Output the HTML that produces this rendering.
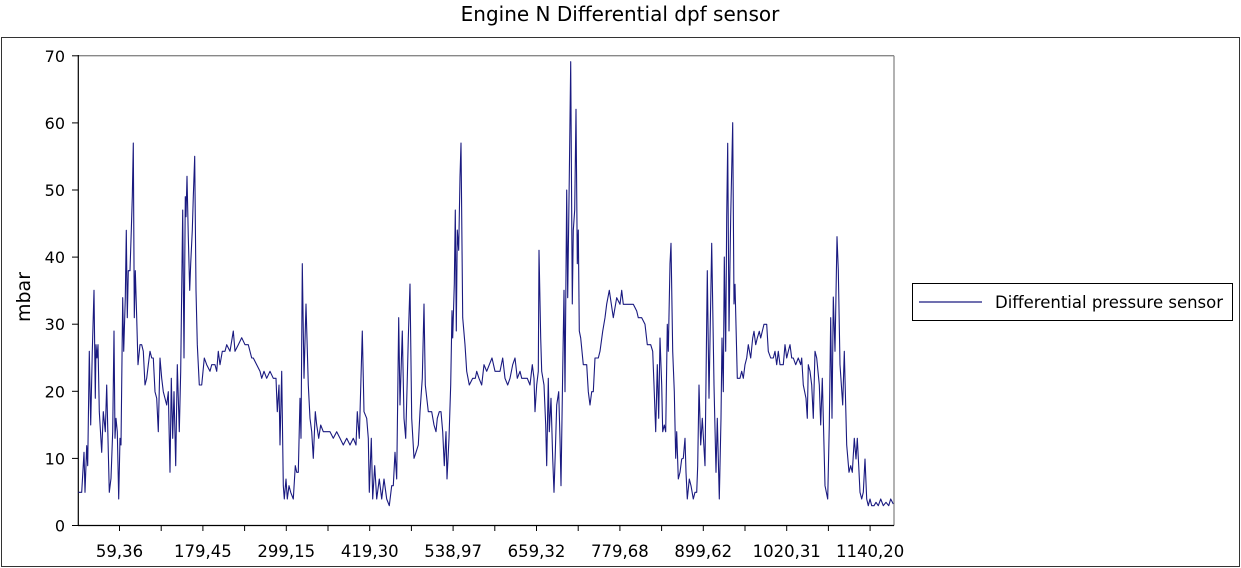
<!DOCTYPE html>
<html><head><meta charset="utf-8"><style>
html,body{margin:0;padding:0;background:#fff;}
svg{display:block;font-family:"DejaVu Sans","Liberation Sans",sans-serif;}
</style></head><body>
<svg id="s" width="1241" height="568" xmlns="http://www.w3.org/2000/svg">
<rect x="0" y="0" width="1241" height="568" fill="#fff"/>
<text x="620" y="21" font-size="20" text-anchor="middle" fill="#000">Engine N Differential dpf sensor</text>
<rect x="1.5" y="37.5" width="1238" height="529" fill="none" stroke="#333" stroke-width="1"/>
<line x1="78" y1="55.7" x2="894" y2="55.7" stroke="#888" stroke-width="1.3"/>
<line x1="894" y1="55.7" x2="894" y2="525.5" stroke="#888" stroke-width="1.3"/>
<line x1="78.3" y1="55" x2="78.3" y2="526" stroke="#000" stroke-width="1.2"/>
<line x1="78" y1="525.5" x2="894" y2="525.5" stroke="#000" stroke-width="1.2"/>
<g id="yt" font-size="16" text-anchor="end" fill="#000"></g>
<g id="xt" font-size="16.5" text-anchor="middle" fill="#000"></g>
<text x="30" y="297" font-size="19" text-anchor="middle" transform="rotate(-90 30 297)">mbar</text>
<polyline id="pl" fill="none" stroke="#1a1a80" stroke-width="1.1" stroke-linejoin="round"/>
<rect x="912.5" y="283.5" width="320" height="37" fill="none" stroke="#000" stroke-width="1"/>
<line x1="919" y1="302" x2="982" y2="302" stroke="#1a1a80" stroke-width="1.2"/>
<text x="995" y="308" font-size="16.5" fill="#000">Differential pressure sensor</text>
</svg>
<script>
var NS="http://www.w3.org/2000/svg";
var yt=document.getElementById('yt'),xt=document.getElementById('xt'),s=document.getElementById('s');
for(var v=0;v<=70;v+=10){var y=525.5-v*6.71;
 var t=document.createElementNS(NS,'text');t.setAttribute('x',65);t.setAttribute('y',y+6);t.textContent=v;yt.appendChild(t);
 var l=document.createElementNS(NS,'line');l.setAttribute('x1',72);l.setAttribute('x2',78);l.setAttribute('y1',y);l.setAttribute('y2',y);l.setAttribute('stroke','#000');s.appendChild(l);}
var labs=["59,36","179,45","299,15","419,30","538,97","659,32","779,68","899,62","1020,31","1140,20"];
for(var i=0;i<19;i++){var x=119.5+i*41.7;
 var l=document.createElementNS(NS,'line');l.setAttribute('x1',x);l.setAttribute('x2',x);l.setAttribute('y1',525.5);l.setAttribute('y2',531);l.setAttribute('stroke','#000');s.appendChild(l);
 if(i%2==0){var t=document.createElementNS(NS,'text');t.setAttribute('x',x);t.setAttribute('y',557);t.textContent=labs[i/2];xt.appendChild(t);}}
var z1=[55,1357,65,1357,72,1237,75,1357,80,1217,83,1277,88,934,92,1155,97,934,102,751,106,1075,108,914,111,954,114,914,118,1115,125,1237,130,1115,136,1175,140,1035,145,1235,148,1357,153,1315,158,1175,162,873,165,1195,168,1135,172,1175,176,1377,180,1195,183,1215,188,773,191,934,196,773,199,571,202,833,205,692,210,692,214,571,217,470,220,309,223,833,226,692,230,833,234,974,240,914,245,914,250,934,255,1035,260,1015,265,974,270,934,275,954,280,954,285,1055,290,1075,295,1175,300,954,305,1015,310,1055,320,1095,325,1055,330,1297,334,1015,338,1195,342,1055,347,1277,352,974,358,1175,362,994,368,510,372,954,376,470,378,530,381,409,385,590,389,751,392,671,397,571,400,470,404,349,408,751,412,914,418,1035,425,1035,433,954,440,974,450,994,455,974,465,974,470,994,475,934,480,974,487,934,495,934,500,914,510,934,520,873,525,934,535,914,545,893,555,914,565,914,575,954,580,954,590,974,600,994,605,1015,612,994,620,1015,630,994,640,1015,648,1015,652,1115,657,1035,660,1215,665,994,670,1337,673,1377,678,1317,682,1377,687,1337,692,1357,700,1377,706,1277,710,1297,715,1297,720,1075,723,1195,727,671,732,1015,738,792,745,1035,750,1135,755,1175,760,1255,766,1115,770,1155,776,1195,782,1155,790,1175,800,1175];
var z2=[0,1175,10,1195,20,1175,30,1195,40,1215,50,1195,60,1215,70,1195,78,1215,82,1115,88,1195,97,873,102,1115,110,1135,115,1195,118,1357,124,1195,128,1377,134,1277,140,1377,148,1317,155,1377,162,1317,170,1377,178,1397,185,1337,190,1337,195,1237,200,1317,206,833,210,1095,217,873,222,1135,227,1195,232,1015,235,894,240,732,245,1135,252,1255,258,1237,265,1215,270,1115,277,1015,282,792,286,1035,295,1115,305,1115,312,1155,318,1175,322,1135,328,1115,333,1115,338,1175,343,1277,348,1175,351,1317,357,1195,362,1035,366,812,368,894,373,732,376,510,379,873,382,570,386,631,390,410,393,309,398,833,405,914,410,994,418,1035,428,1015,436,1015,440,994,447,1015,455,1035,462,974,470,994,478,974,486,954,495,994,510,994,518,954,525,1015,533,1035,540,1015,548,974,555,954,562,1015,570,994,575,1015,585,1015,592,1015,600,1035,607,974,612,1015,615,1115,620,1035,625,994,627,631,632,894,635,994,642,1035,647,1155,650,1277,655,1015,658,1175,663,1075,668,1255,672,1357,676,1237,680,1095,686,1055,690,1197,693,1337,698,994,702,751,705,1055,710,450,713,773,718,410,722,65,727,792,730,571,734,510,738,208,742,671,745,570,748,873,752,894,760,974,770,974,775,1055,780,1095,785,1055,790,1055,795,954,805,954,810,934,818,874,825,833,830,792,838,751];
var z3=[10,833,20,773,30,793,35,751,40,793,70,793,80,813,85,833,95,833,105,853,112,914,122,914,128,934,132,1035,137,1175,142,974,146,1135,150,894,155,1035,158,1175,163,1155,167,1175,172,853,175,934,180,671,183,610,188,934,193,1055,197,1255,200,1175,205,1317,210,1297,215,1257,220,1255,225,1195,228,1297,232,1377,238,1317,243,1337,250,1377,255,1357,260,1357,263,1277,267,1035,272,1215,277,1135,285,1277,292,692,297,1075,305,610,312,1035,318,1297,322,1135,328,1377,333,1135,336,894,340,1055,343,651,347,934,350,530,353,310,357,873,362,530,368,248,372,792,375,733,382,1015,390,1015,395,994,400,1015,405,974,410,954,415,914,422,954,428,894,432,874,437,914,442,894,448,874,452,894,457,874,462,853,470,853,475,934,482,954,490,954,495,934,500,974,505,934,510,974,520,974,525,914,530,954,535,934,540,914,545,954,550,954,557,974,565,954,572,974,575,954,580,1035,588,1075,592,1135,595,974,600,994,605,1035,610,1135,615,934,620,954,628,1035,632,1155,637,1015,645,1337,653,1377,658,1155,662,833,666,1135,670,771,675,934,681,590,685,690,690,974,698,1095,703,934,710,1215,717,1297,722,1277,727,1297,733,1195,738,1257,742,1195,746,1277,750,1357,755,1377,760,1357,765,1257,770,1377,775,1397,780,1377,785,1397,792,1397,798,1387,805,1397,812,1377,820,1397,828,1387,836,1397,842,1377,850,1392];
var pts=[];
function add(a,ox){for(var i=0;i<a.length;i+=2){pts.push((ox+a[i]/3).toFixed(1)+","+(40+a[i+1]/3).toFixed(1));}}
add(z1,60);add(z2,330);add(z3,610);
document.getElementById('pl').setAttribute('points',pts.join(' '));
</script>
</body></html>
